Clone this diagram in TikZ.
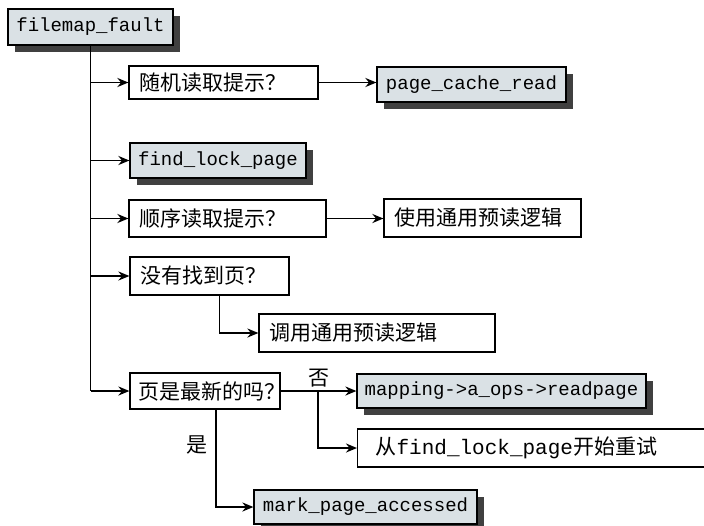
\documentclass[tikz,border=0pt]{standalone}
\usepackage{fontspec}
\setmonofont{Liberation Mono}
\newfontfamily\cjk{Noto Sans CJK SC}
\usetikzlibrary{arrows.meta,shadows}
\definecolor{fnfill}{RGB}{218,225,229}

\begin{document}
\begin{tikzpicture}[x=0.5pt, y=-0.5pt,
      box/.style={draw=black, line width=0.6pt, fill=white, inner ysep=0pt, inner xsep=5pt,
                  align=left, minimum height=18pt, font=\fontsize{10.5}{12}\cjk},
      fn/.style={box, fill=fnfill, inner xsep=3pt, font=\fontsize{9.5}{11}\ttfamily,
                 drop shadow={shadow xshift=3.5pt, shadow yshift=-3.5pt, fill=black!75, opacity=1}},
      lbl/.style={inner sep=0pt, font=\fontsize{10.5}{12}\cjk},
      arr/.style={-{Stealth[length=5.5pt,width=4.5pt]}, line width=0.9pt}]

    \useasboundingbox (0,0) rectangle (704,525);
    \clip (0,0) rectangle (704,525);

    \node[fn, minimum width=82.5pt] (fault) at (90.5,27) {filemap\_fault};
    \node[box, text width=84.5pt, minimum height=16.5pt] (rand) at (223.5,82.5) {随机读取提示？};
    \node[fn, minimum width=94.5pt, minimum height=17.5pt] (pcr) at (471.5,84.5) {page\_cache\_read};
    \node[fn, minimum width=88pt, minimum height=17.5pt] (flp) at (218,160.5) {find\_lock\_page};
    \node[box, text width=88.5pt, minimum height=18.5pt] (seq) at (227.5,218.5) {顺序读取提示？};
    \node[box, text width=88.5pt, minimum height=19pt] (ra1) at (482.5,218) {使用通用预读逻辑};
    \node[box, text width=69.5pt, minimum height=19pt] (nopage) at (209.5,276) {没有找到页？};
    \node[box, text width=108pt, minimum height=19pt] (ra2) at (377,333) {调用通用预读逻辑};
    \node[box, inner xsep=4pt, text width=67pt] (uptd) at (205,391) {页是最新的吗？};
    \node[fn, minimum width=144.5pt, minimum height=17pt] (readpg) at (501.5,391) {mapping->a\_ops->readpage};
    \node[box, anchor=west, inner xsep=9pt, text width=163.5pt, minimum height=19pt]
      (retry) at (357,448) {从\texttt{find\_lock\_page}开始重试};
    \node[fn, minimum width=111.5pt, minimum height=17pt] (mpa) at (365.5,507) {mark\_page\_accessed};

    \node[lbl] (no) at (319,378) {否};
    \node[lbl] (yes) at (197,445) {是};
    \coordinate (fork) at (318,391);

    \draw[line width=0.9pt] (fault.south) -- (fault.south |- uptd.west);
    \foreach \n in {rand,flp,seq,nopage,uptd}
      \draw[arr] (fault.south |- \n.west) -- (\n.west);

    \draw[arr] (rand.east) -- (rand.east -| pcr.west);
    \draw[arr] (seq.east) -- (seq.east -| ra1.west);
    \draw[arr] ([xshift=5pt]nopage.south) |- (ra2.west);
    \draw[arr] (uptd.east) -- (readpg.west);
    \draw[arr] (fork) |- (retry.west);
    \draw[arr] ([xshift=5.5pt]uptd.south) |- (mpa.west);
  \end{tikzpicture}
\end{document}
